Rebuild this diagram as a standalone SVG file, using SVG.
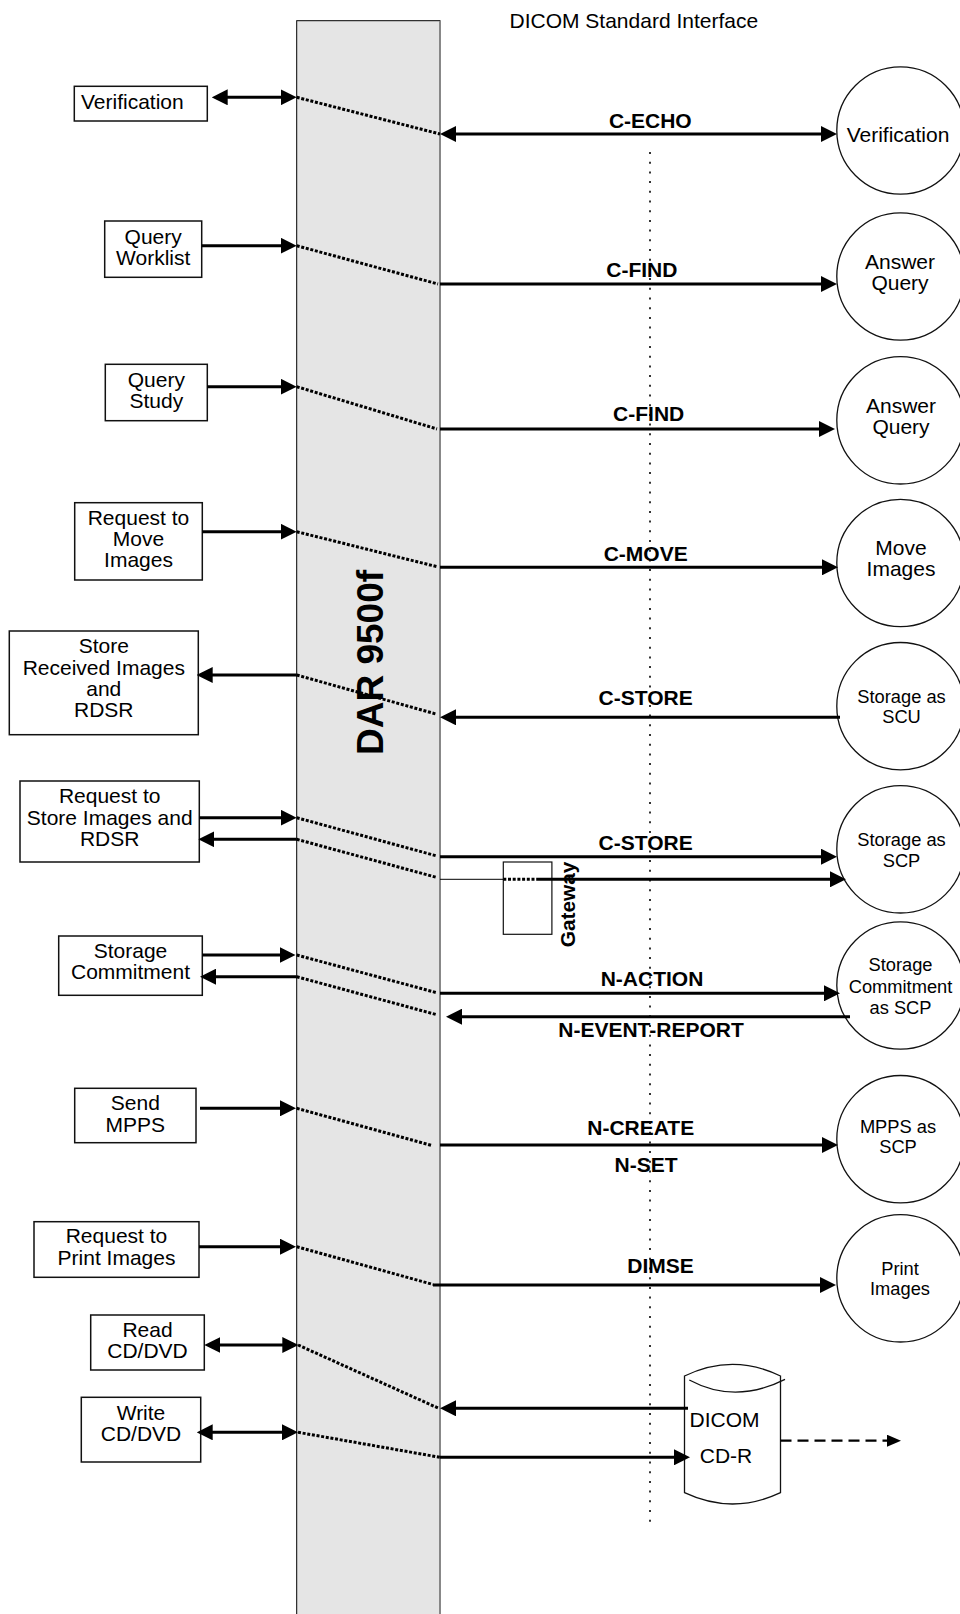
<svg xmlns="http://www.w3.org/2000/svg" width="960" height="1614" viewBox="0 0 960 1614">
<style>
.box{fill:#fff;stroke:#111;stroke-width:1.5}
.circ{fill:#fff;stroke:#111;stroke-width:1.3}
.t{font-family:"Liberation Sans",Arial,sans-serif;font-size:21px;fill:#000}
.ts{font-family:"Liberation Sans",Arial,sans-serif;font-size:18.3px;fill:#000}
.c{text-anchor:middle}
.lb{font-family:"Liberation Sans",Arial,sans-serif;font-size:21px;font-weight:bold;fill:#000;text-anchor:middle}
.ar{stroke:#000;stroke-width:3;fill:none}
.dot{stroke:#000;stroke-width:3;fill:none;stroke-dasharray:3 1.7}
.vdot{stroke:#000;stroke-width:1.6;fill:none;stroke-dasharray:2 7.7}
.thin{stroke:#000;stroke-width:1;fill:none}
.dash{stroke:#000;stroke-width:2.2;fill:none;stroke-dasharray:11 6}
</style>
<defs>
<marker id="ah" viewBox="0 0 16 16" refX="8" refY="8" markerWidth="16" markerHeight="16" markerUnits="userSpaceOnUse" orient="auto-start-reverse">
<path d="M0,0 L16,8 L0,16 z" fill="#000"/>
</marker>
<marker id="ahs" viewBox="0 0 14 12" refX="6" refY="6" markerWidth="14" markerHeight="12" markerUnits="userSpaceOnUse" orient="auto">
<path d="M0,0 L14,6 L0,12 z" fill="#000"/>
</marker>
</defs>

<g id="dar9500f">
<rect x="296.7" y="20.7" width="143.3" height="1600" fill="#e5e5e5" stroke="#000" stroke-width="1"/>
<line x1="440" y1="21" x2="440" y2="1614" stroke="#8a8a8a" stroke-width="1.8"/>
<text transform="rotate(-90 382.5 662.5)" x="382.5" y="662.5" font-family="Liberation Sans, Arial, sans-serif" font-size="37" font-weight="bold" text-anchor="middle">DAR 9500f</text>
</g>

<g id="title">
<text class="t" x="509.5" y="28.3">DICOM Standard Interface</text>
</g>

<g id="interface-line">
<line class="vdot" x1="650" y1="152" x2="650" y2="1529"/>
</g>

<g id="box-verification">
<rect class="box" x="74.3" y="86.3" width="133" height="34.7"/>
<text class="t" x="81" y="108.5">Verification</text>
</g>
<g id="box-query-worklist">
<rect class="box" x="104.7" y="221" width="97" height="56.3"/>
<text class="t c"><tspan x="153.2" y="243.5">Query</tspan><tspan x="153.2" y="265">Worklist</tspan></text>
</g>
<g id="box-query-study">
<rect class="box" x="105.3" y="364.3" width="102" height="56.4"/>
<text class="t c"><tspan x="156.3" y="386.5">Query</tspan><tspan x="156.3" y="407.5">Study</tspan></text>
</g>
<g id="box-request-move">
<rect class="box" x="74.7" y="502.7" width="127.6" height="77.3"/>
<text class="t c"><tspan x="138.5" y="525">Request to</tspan><tspan x="138.5" y="546">Move</tspan><tspan x="138.5" y="567">Images</tspan></text>
</g>
<g id="box-store-received">
<rect class="box" x="9.3" y="631" width="189" height="103.7"/>
<text class="t c"><tspan x="103.8" y="653">Store</tspan><tspan x="103.8" y="675">Received Images</tspan><tspan x="103.8" y="696">and</tspan><tspan x="103.8" y="717">RDSR</tspan></text>
</g>
<g id="box-request-store">
<rect class="box" x="20" y="781" width="179.3" height="81"/>
<text class="t c"><tspan x="109.7" y="802.7">Request to</tspan><tspan x="109.7" y="824.5">Store Images and</tspan><tspan x="109.7" y="845.7">RDSR</tspan></text>
</g>
<g id="box-storage-commitment">
<rect class="box" x="58.7" y="936" width="143.6" height="59.3"/>
<text class="t c"><tspan x="130.5" y="957.7">Storage</tspan><tspan x="130.5" y="979.3">Commitment</tspan></text>
</g>
<g id="box-send-mpps">
<rect class="box" x="74.7" y="1088.3" width="121.3" height="54.4"/>
<text class="t c"><tspan x="135.3" y="1110">Send</tspan><tspan x="135.3" y="1131.7">MPPS</tspan></text>
</g>
<g id="box-request-print">
<rect class="box" x="34" y="1221.7" width="165" height="55.6"/>
<text class="t c"><tspan x="116.5" y="1243.3">Request to</tspan><tspan x="116.5" y="1264.5">Print Images</tspan></text>
</g>
<g id="box-read-cd">
<rect class="box" x="90.7" y="1315" width="113.6" height="55"/>
<text class="t c"><tspan x="147.5" y="1336.7">Read</tspan><tspan x="147.5" y="1358.3">CD/DVD</tspan></text>
</g>
<g id="box-write-cd">
<rect class="box" x="81.3" y="1397.3" width="119.4" height="64.7"/>
<text class="t c"><tspan x="141" y="1420">Write</tspan><tspan x="141" y="1440.5">CD/DVD</tspan></text>
</g>

<g id="circle-verification">
<circle class="circ" cx="900.5" cy="130.5" r="63.7"/>
<text class="t c" x="898" y="142">Verification</text>
</g>
<g id="circle-answer-query-1">
<circle class="circ" cx="900.5" cy="276.5" r="63.7"/>
<text class="t c"><tspan x="900" y="269">Answer</tspan><tspan x="900" y="290">Query</tspan></text>
</g>
<g id="circle-answer-query-2">
<circle class="circ" cx="900.5" cy="420.3" r="63.7"/>
<text class="t c"><tspan x="901" y="413">Answer</tspan><tspan x="901" y="434">Query</tspan></text>
</g>
<g id="circle-move-images">
<circle class="circ" cx="900.5" cy="563" r="63.7"/>
<text class="t c"><tspan x="901" y="555">Move</tspan><tspan x="901" y="575.5">Images</tspan></text>
</g>
<g id="circle-storage-scu">
<circle class="circ" cx="900.5" cy="706.2" r="63.7"/>
<text class="ts c"><tspan x="901.5" y="703.3">Storage as</tspan><tspan x="901.5" y="722.7">SCU</tspan></text>
</g>
<g id="circle-storage-scp">
<circle class="circ" cx="900.5" cy="849.3" r="63.7"/>
<text class="ts c"><tspan x="901.5" y="846">Storage as</tspan><tspan x="901.5" y="866.5">SCP</tspan></text>
</g>
<g id="circle-storage-commitment">
<circle class="circ" cx="900.5" cy="985.5" r="63.7"/>
<text class="ts c"><tspan x="900.5" y="971">Storage</tspan><tspan x="900.5" y="992.7">Commitment</tspan><tspan x="900.5" y="1014.3">as SCP</tspan></text>
</g>
<g id="circle-mpps">
<circle class="circ" cx="900.5" cy="1139.2" r="63.7"/>
<text class="ts c"><tspan x="898" y="1133.3">MPPS as</tspan><tspan x="898" y="1153.3">SCP</tspan></text>
</g>
<g id="circle-print-images">
<circle class="circ" cx="900.5" cy="1278.3" r="63.7"/>
<text class="ts c"><tspan x="900" y="1275">Print</tspan><tspan x="900" y="1294.5">Images</tspan></text>
</g>

<g id="gateway">
<rect x="503.3" y="862" width="48.6" height="72.3" fill="#fff" stroke="#111" stroke-width="1.2"/>
<text transform="rotate(-90 574.5 904.5)" x="574.5" y="904.5" font-family="Liberation Sans, Arial, sans-serif" font-size="20.8" font-weight="bold" text-anchor="middle">Gateway</text>
</g>

<g id="dicom-cdr">
<path d="M684.5,1376 Q732.5,1352.6 780.5,1376 L780.5,1492.7 Q732.5,1515.3 684.5,1492.7 Z" fill="#fff" stroke="#111" stroke-width="1.3"/>
<path d="M689.3,1380 Q735,1404.6 785,1379.3" fill="none" stroke="#111" stroke-width="1.3"/>
<text class="t" x="689.6" y="1426.7">DICOM</text>
<text class="t c" x="726" y="1462.7">CD-R</text>
</g>

<g id="connectors">
<!-- left side arrows -->
<line class="ar" x1="219.7" y1="97.3" x2="288.7" y2="97.3" marker-start="url(#ah)" marker-end="url(#ah)"/>
<line class="ar" x1="201.7" y1="245.7" x2="288.7" y2="245.7" marker-end="url(#ah)"/>
<line class="ar" x1="207.3" y1="386.7" x2="288.7" y2="386.7" marker-end="url(#ah)"/>
<line class="ar" x1="202.3" y1="531.7" x2="288.7" y2="531.7" marker-end="url(#ah)"/>
<line class="ar" x1="296.7" y1="675" x2="204.7" y2="675" marker-end="url(#ah)"/>
<line class="ar" x1="199.3" y1="817.7" x2="288.7" y2="817.7" marker-end="url(#ah)"/>
<line class="ar" x1="296.7" y1="839.3" x2="206.3" y2="839.3" marker-end="url(#ah)"/>
<line class="ar" x1="202.3" y1="955" x2="287.5" y2="955" marker-end="url(#ah)"/>
<line class="ar" x1="296.7" y1="976.7" x2="208" y2="976.7" marker-end="url(#ah)"/>
<line class="ar" x1="200" y1="1108.3" x2="288" y2="1108.3" marker-end="url(#ah)"/>
<line class="ar" x1="199" y1="1246.7" x2="288" y2="1246.7" marker-end="url(#ah)"/>
<line class="ar" x1="212.3" y1="1345" x2="290.3" y2="1345" marker-start="url(#ah)" marker-end="url(#ah)"/>
<line class="ar" x1="204.7" y1="1432.3" x2="290" y2="1432.3" marker-start="url(#ah)" marker-end="url(#ah)"/>
<!-- dotted links through DAR 9500f -->
<line class="dot" x1="296.7" y1="97.3" x2="440" y2="134"/>
<line class="dot" x1="296.7" y1="245.7" x2="438" y2="284"/>
<line class="dot" x1="296.7" y1="386.7" x2="437" y2="429"/>
<line class="dot" x1="296.7" y1="531.7" x2="437" y2="566.7"/>
<line class="dot" x1="296.7" y1="675" x2="436" y2="714"/>
<line class="dot" x1="296.7" y1="817.7" x2="437" y2="856"/>
<line class="dot" x1="296.7" y1="839.3" x2="437" y2="877.5"/>
<line class="dot" x1="296.7" y1="955" x2="436" y2="992.5"/>
<line class="dot" x1="296.7" y1="976.7" x2="436" y2="1014.5"/>
<line class="dot" x1="296.7" y1="1108.3" x2="432" y2="1145.5"/>
<line class="dot" x1="296.7" y1="1246.7" x2="433" y2="1284.5"/>
<line class="dot" x1="298" y1="1345" x2="438" y2="1408"/>
<line class="dot" x1="298" y1="1432.3" x2="440" y2="1457.3"/>
<!-- DICOM messages -->
<line class="ar" x1="448" y1="134" x2="829" y2="134" marker-start="url(#ah)" marker-end="url(#ah)"/>
<line class="ar" x1="440" y1="284" x2="829" y2="284" marker-end="url(#ah)"/>
<line class="ar" x1="440" y1="429" x2="827" y2="429" marker-end="url(#ah)"/>
<line class="ar" x1="440" y1="567.3" x2="830" y2="567.3" marker-end="url(#ah)"/>
<line class="ar" x1="840" y1="717.3" x2="448" y2="717.3" marker-end="url(#ah)"/>
<line class="ar" x1="440" y1="856.7" x2="829" y2="856.7" marker-end="url(#ah)"/>
<line class="thin" x1="440" y1="879.3" x2="503.3" y2="879.3"/>
<line class="dot" x1="503.3" y1="879.3" x2="537" y2="879.3"/>
<line class="ar" x1="537" y1="879.3" x2="838" y2="879.3" marker-end="url(#ah)"/>
<line class="ar" x1="440" y1="993.3" x2="832" y2="993.3" marker-end="url(#ah)"/>
<line class="ar" x1="850" y1="1016.7" x2="454" y2="1016.7" marker-end="url(#ah)"/>
<line class="ar" x1="440" y1="1145" x2="830" y2="1145" marker-end="url(#ah)"/>
<line class="ar" x1="433" y1="1285" x2="828" y2="1285" marker-end="url(#ah)"/>
<line class="ar" x1="688" y1="1408.3" x2="448" y2="1408.3" marker-end="url(#ah)"/>
<line class="ar" x1="440" y1="1457.3" x2="682" y2="1457.3" marker-end="url(#ah)"/>
<line class="dash" x1="780.5" y1="1440.7" x2="893" y2="1440.7" marker-end="url(#ahs)"/>
</g>

<g id="labels">
<text class="lb" x="650.3" y="128.3">C-ECHO</text>
<text class="lb" x="641.8" y="276.7">C-FIND</text>
<text class="lb" x="648.7" y="420.7">C-FIND</text>
<text class="lb" x="645.7" y="560.7">C-MOVE</text>
<text class="lb" x="645.6" y="705">C-STORE</text>
<text class="lb" x="645.6" y="850">C-STORE</text>
<text class="lb" x="652" y="985.7">N-ACTION</text>
<text class="lb" x="651" y="1037.3">N-EVENT-REPORT</text>
<text class="lb" x="640.7" y="1135">N-CREATE</text>
<text class="lb" x="646" y="1171.7">N-SET</text>
<text class="lb" x="660.5" y="1273.3">DIMSE</text>
</g>
</svg>
